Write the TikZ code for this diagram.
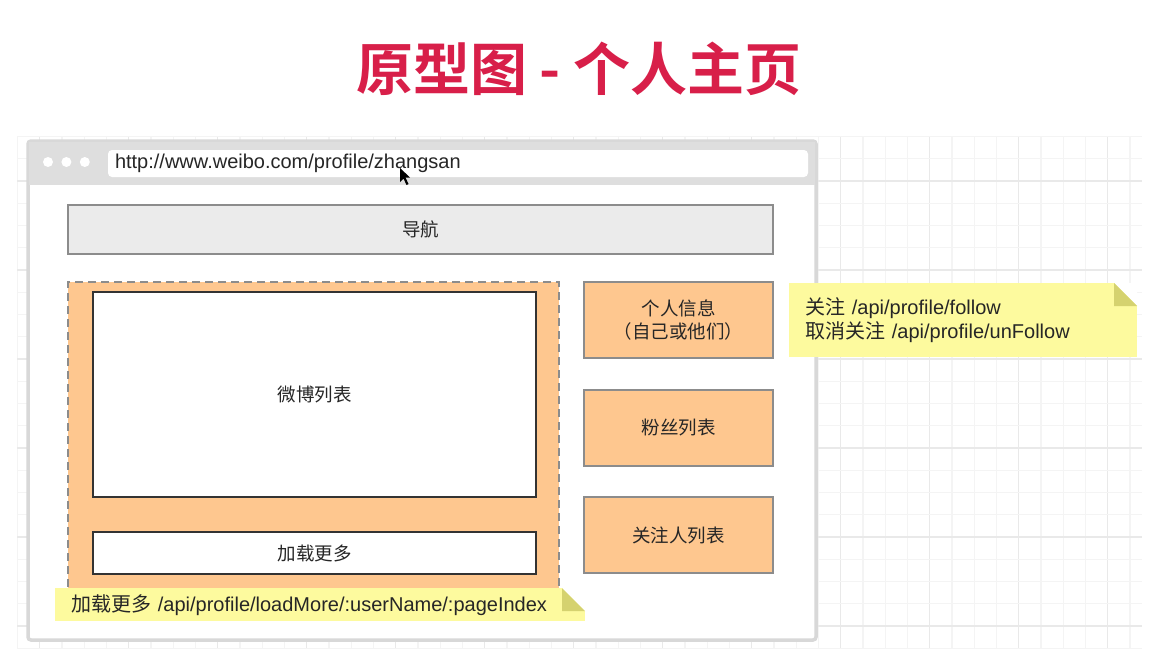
\documentclass[tikz,border=0pt]{standalone}
\usepackage{fontspec}
\setmainfont{Liberation Sans}
\newfontfamily\cjk{Noto Sans CJK SC}[BoldFont={Noto Sans CJK SC Bold}]
\usetikzlibrary{positioning,calc}

\definecolor{titlered}{HTML}{D81F49}
\definecolor{gridminor}{HTML}{F4F4F4}
\definecolor{gridmajor}{HTML}{E9E9E9}
\definecolor{framegray}{HTML}{D8D8D8}
\definecolor{bargray}{HTML}{DEDEDE}
\definecolor{navgray}{HTML}{EBEBEB}
\definecolor{boxgray}{HTML}{8C8C8C}
\definecolor{peach}{HTML}{FEC78F}
\definecolor{noteyellow}{HTML}{FDFA9E}
\definecolor{notefold}{HTML}{D5D26F}

\begin{document}
\begin{tikzpicture}[x=1pt, y=-1pt, node distance=107.5pt]
\tikzstyle{label} = [font=\cjk\fontsize{18.5}{23}\selectfont, text=black!85]
\tikzstyle{panel} = [rectangle, draw=boxgray, line width=2pt, fill=peach, minimum width=189pt, minimum height=76pt, align=center, label]
\tikzstyle{card} = [rectangle, draw=black!80, line width=2.5pt, fill=white, minimum width=443pt, label]
\tikzstyle{note} = [rectangle, fill=noteyellow, anchor=north west, align=left, inner xsep=16pt, text=black!85, font=\fontsize{20}{24}\selectfont,
  path picture={
    \fill[white] ($(path picture bounding box.north east)+(-23pt,0pt)$) -- (path picture bounding box.north east) -- ($(path picture bounding box.north east)+(0pt,-23pt)$) -- cycle;
    \fill[notefold] ($(path picture bounding box.north east)+(-23pt,0pt)$) -- ($(path picture bounding box.north east)+(0pt,-23pt)$) -- ($(path picture bounding box.north east)+(-23pt,-23pt)$) -- cycle;
  }]
\tikzstyle{dot} = [circle, fill=white, minimum size=10pt, inner sep=0pt]

\useasboundingbox (0,0) rectangle (1172,654);
\fill[white] (0,0) rectangle (1172,654);

% background grid
\foreach \k in {0,...,50} {
  \pgfmathtruncatemacro{\m}{mod(\k,4)}
  \ifnum\m=1 \def\gc{gridmajor}\else \def\gc{gridminor}\fi
  \draw[\gc, line width=1.2pt] (17.4+\k*22.25,136.5) -- (17.4+\k*22.25,648);
}
\foreach \j in {0,...,23} {
  \pgfmathtruncatemacro{\m}{mod(\j,4)}
  \ifnum\m=2 \def\gc{gridmajor}\else \def\gc{gridminor}\fi
  \draw[\gc, line width=1.2pt] (17.4,136.5+\j*22.25) -- (1142,136.5+\j*22.25);
}

\node [font=\cjk\fontsize{57}{60}\selectfont\bfseries, text=titlered] (title) at (579,69) {原型图 - 个人主页};

% browser window
\node [rectangle, draw=framegray, line width=3.5pt, fill=white, rounded corners=3pt, minimum width=788pt, minimum height=499pt] (browser) at (422,390.5) {};
\node [rectangle, fill=bargray, anchor=north west, minimum width=786pt, minimum height=43pt, inner sep=0pt] (bar) at (29,142) {};
\node [dot] (dotA) at (48,162) {};
\node [dot, right=8pt of dotA] (dotB) {};
\node [dot, right=8pt of dotB] (dotC) {};
\node [rectangle, fill=white, rounded corners=4pt, minimum width=700pt, minimum height=27pt, text width=686pt, align=left, font=\fontsize{20}{22}\selectfont, text=black!85] (url) at (458,163.5) {http://www.weibo.com/profile/zhangsan};
\fill[black] (400,168) -- (400,182) -- (403.5,178.5) -- (406.5,185) -- (408.5,184) -- (405.5,177.5) -- (410,177.5) -- cycle;

\node [rectangle, draw=boxgray, line width=2pt, fill=navgray, minimum width=705pt, minimum height=49pt, label] (nav) at (420.5,229.5) {导航};

% left column
\node [rectangle, draw=boxgray, line width=2pt, dashed, dash pattern=on 8pt off 5pt, fill=peach, minimum width=491pt, minimum height=320pt] (feed) at (313.5,442) {};
\node [card, minimum height=205pt] (list) at (314.5,394.5) {微博列表};
\node [card, minimum height=42pt] (more) at (314.5,553) {加载更多};

% right column
\node [panel] (info) at (678.5,320) {个人信息\\（自己或他们）};
\node [panel, below of=info] (fans) {粉丝列表};
\node [panel, below of=fans] (follows) {关注人列表};

% api notes
\node [note, minimum width=348pt, minimum height=74pt, text width=316pt] (followapi) at (789,283) {{\cjk 关注} /api/profile/follow\\{\cjk 取消关注} /api/profile/unFollow};
\node [note, minimum width=530pt, minimum height=33pt, text width=498pt, inner ysep=2pt] (moreapi) at (55,588) {{\cjk 加载更多} /api/profile/loadMore/:userName/:pageIndex};

\end{tikzpicture}
\end{document}
